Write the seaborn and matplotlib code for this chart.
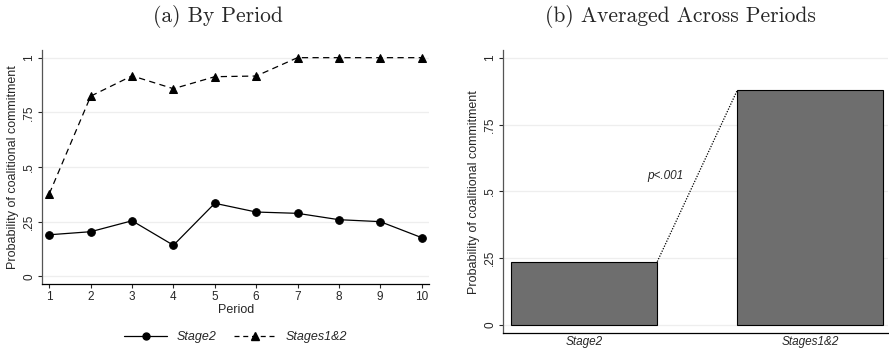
import pandas as pd
import matplotlib.pyplot as plt
import seaborn as sns
from matplotlib.lines import Line2D

sns.set_style("white")
plt.rcParams["font.family"] = ["Liberation Sans", "DejaVu Sans"]

# data
periods = [1, 2, 3, 4, 5, 6, 7, 8, 9, 10]
stage2 = [0.190, 0.204, 0.254, 0.142, 0.334, 0.294, 0.288, 0.259, 0.250, 0.177]
stages12 = [0.378, 0.824, 0.917, 0.858, 0.913, 0.916, 1.0, 1.0, 1.0, 1.0]
groups = ["Stage2", "Stages1&2"]
group_means = [0.237, 0.878]
yticks = [0, 0.25, 0.5, 0.75, 1]
ytick_labels = ["0", ".25", ".5", ".75", "1"]

df = pd.DataFrame({"Period": periods * 2,
                   "Prob": stage2 + stages12,
                   "Series": ["Stage2"] * 10 + ["Stages1&2"] * 10})
df_avg = pd.DataFrame({"Group": groups, "Prob": group_means})

fig = plt.figure(figsize=(8.89, 3.51), dpi=100)
ax1 = fig.add_axes([0.0476, 0.191, 0.435, 0.6665])
ax2 = fig.add_axes([0.566, 0.0504, 0.433, 0.807])

grid_kw = dict(color="#eeeeee", linewidth=0.9, zorder=0)

# (a) By Period
for y in yticks:
    ax1.axhline(y, **grid_kw)
sns.lineplot(data=df[df["Series"] == "Stage2"], x="Period", y="Prob", ax=ax1,
             color="black", linewidth=0.9, marker="o", markersize=5.5,
             markeredgecolor="black", linestyle="-")
sns.lineplot(data=df[df["Series"] == "Stages1&2"], x="Period", y="Prob", ax=ax1,
             color="black", linewidth=0.9, marker="^", markersize=6,
             markeredgecolor="black", linestyle=(0, (5, 3.5)))
ax1.set_xlim(0.83, 10.18)
ax1.set_ylim(-0.035, 1.035)
ax1.set_xticks(periods)
ax1.set_yticks(yticks)
ax1.set_yticklabels(ytick_labels, rotation=90, va="center")
ax1.set_xlabel("Period", fontsize=9, labelpad=1)
ax1.set_ylabel("Probability of coalitional commitment", fontsize=9, labelpad=3)

handles = [
    Line2D([], [], color="black", linewidth=0.9, marker="o", markersize=5),
    Line2D([], [], color="black", linewidth=0.9, marker="^", markersize=5.5,
           linestyle=(0, (4, 3))),
]
fig.legend(handles, groups, loc="center", bbox_to_anchor=(0.265, 0.04),
           ncol=2, frameon=False, handlelength=3.5, columnspacing=1.4,
           handletextpad=0.7, prop={"size": 9, "style": "italic"})

# (b) Averaged Across Periods
for y in yticks:
    ax2.axhline(y, **grid_kw)
sns.barplot(data=df_avg, x="Group", y="Prob", ax=ax2, color="#6e6e6e",
            saturation=1, edgecolor="black", linewidth=0.8, width=0.646,
            zorder=2)
ax2.set_xlim(-0.359, 1.345)
ax2.set_ylim(-0.031, 1.029)
ax2.set_yticks(yticks)
ax2.set_yticklabels(ytick_labels, rotation=90, va="center")
ax2.set_xticks([0, 1])
ax2.set_xticklabels(groups, style="italic", fontsize=8.5)
ax2.set_xlabel("")
ax2.set_ylabel("Probability of coalitional commitment", fontsize=9, labelpad=3)

b0, b1 = ax2.patches[0], ax2.patches[1]
ax2.plot([b0.get_x() + b0.get_width(), b1.get_x()],
         [b0.get_height(), b1.get_height()],
         color="black", linestyle=(0, (1, 1.2)), linewidth=0.9, zorder=3)
ax2.text(0.358, 0.557, "p<.001", style="italic", fontsize=8.5,
         ha="center", va="center")

for ax in (ax1, ax2):
    sns.despine(ax=ax)
    ax.spines["left"].set_color("#555555")
    ax.spines["bottom"].set_color("black")
    ax.spines["left"].set_linewidth(0.9)
    ax.spines["bottom"].set_linewidth(0.9)
    ax.tick_params(axis="both", labelsize=8.5, length=3, width=0.8,
                   direction="out", pad=2, left=True, bottom=True)
ax2.tick_params(axis="x", length=0, pad=2)

# panel titles
fig.text(0.2452, 0.954, "(a) By Period", family="cmr10", fontsize=15.5,
         ha="center", va="center")
fig.text(0.765, 0.954, "(b) Averaged Across Periods", family="cmr10",
         fontsize=15.5, ha="center", va="center")

fig.savefig("out.png", dpi=100)
